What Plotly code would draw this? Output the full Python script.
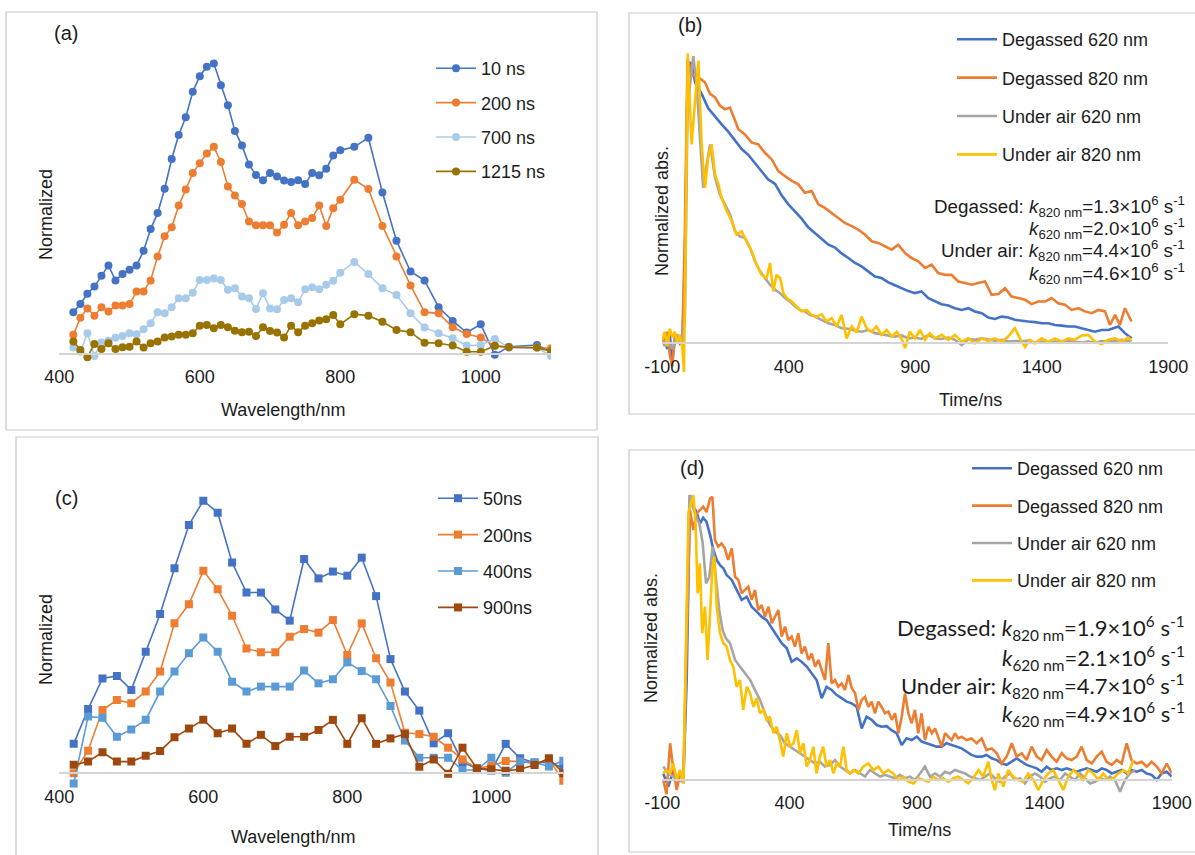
import plotly.graph_objects as go

W, H = 1195, 855

# ---------------- Panel (a) data ----------------
wl_a = [420, 430, 440, 450, 460, 470, 480, 490, 500, 510,
        520, 530, 540, 550, 560, 570, 580, 590, 600, 610,
        620, 630, 640, 650, 660, 670, 680, 690, 700, 710,
        720, 730, 740, 750, 760, 770, 780, 790, 800, 820,
        840, 860, 880, 900, 920, 940, 960, 980, 1000, 1020,
        1040, 1080, 1100]
a_10ns = [0.144, 0.172, 0.207, 0.232, 0.269, 0.305, 0.253, 0.275, 0.290, 0.305,
          0.355, 0.430, 0.485, 0.569, 0.671, 0.754, 0.815, 0.903, 0.956, 0.989,
          1.000, 0.925, 0.856, 0.768, 0.718, 0.652, 0.616, 0.598, 0.623, 0.611,
          0.597, 0.592, 0.598, 0.585, 0.623, 0.615, 0.638, 0.683, 0.701, 0.713,
          0.744, 0.556, 0.390, 0.284, 0.253, 0.161, 0.114, 0.074, 0.102, -0.003,
          0.025, 0.031, 0.008]
a_200ns = [0.066, 0.125, 0.157, 0.132, 0.161, 0.146, 0.167, 0.167, 0.172, 0.215,
           0.215, 0.253, 0.336, 0.405, 0.436, 0.511, 0.566, 0.623, 0.657, 0.690,
           0.713, 0.661, 0.577, 0.546, 0.516, 0.456, 0.443, 0.443, 0.443, 0.418,
           0.445, 0.485, 0.443, 0.456, 0.468, 0.511, 0.441, 0.502, 0.531, 0.600,
           0.568, 0.441, 0.336, 0.236, 0.144, 0.140, 0.092, 0.069, 0.057, 0.028,
           0.023, 0.022, 0.020]
a_700ns = [0.022, 0.008, 0.071, -0.007, 0.040, 0.046, 0.056, 0.062, 0.071, 0.068,
           0.085, 0.106, 0.144, 0.140, 0.161, 0.192, 0.192, 0.211, 0.255, 0.255,
           0.260, 0.255, 0.221, 0.226, 0.198, 0.192, 0.155, 0.209, 0.157, 0.154,
           0.186, 0.192, 0.178, 0.223, 0.230, 0.223, 0.238, 0.252, 0.280, 0.317,
           0.275, 0.226, 0.203, 0.140, 0.091, 0.071, 0.054, 0.029, 0.031, 0.052,
           0.022, 0.022, -0.007]
a_1215ns = [0.043, 0.014, -0.011, 0.034, 0.017, 0.037, 0.017, 0.023, 0.025, 0.043,
            0.022, 0.037, 0.043, 0.057, 0.060, 0.066, 0.066, 0.071, 0.097, 0.100,
            0.089, 0.100, 0.092, 0.080, 0.075, 0.077, 0.062, 0.092, 0.079, 0.074,
            0.057, 0.097, 0.075, 0.097, 0.106, 0.115, 0.120, 0.134, 0.102, 0.137,
            0.132, 0.111, 0.083, 0.075, 0.039, 0.037, 0.029, 0.008, 0.008, 0.028,
            0.023, 0.022, 0.010]

# ---------------- Panel (c) data ----------------
wl_c = [420, 440, 460, 480, 500, 520, 540, 560, 580, 600,
        620, 640, 660, 680, 700, 720, 740, 760, 780, 800,
        820, 840, 860, 880, 900, 920, 940, 960, 980, 1000,
        1020, 1040, 1060, 1080, 1100]
c_50ns = [0.108, 0.236, 0.348, 0.357, 0.306, 0.446, 0.584, 0.752, 0.911, 1.000,
          0.956, 0.773, 0.663, 0.663, 0.601, 0.560, 0.786, 0.715, 0.740, 0.725,
          0.791, 0.650, 0.419, 0.300, 0.230, 0.110, 0.147, 0.040, 0.018, 0.010,
          0.108, 0.055, 0.040, 0.040, 0.020]
c_200ns = [0.000, 0.083, 0.232, 0.269, 0.257, 0.300, 0.373, 0.550, 0.620, 0.743,
           0.675, 0.578, 0.458, 0.444, 0.444, 0.501, 0.529, 0.516, 0.562, 0.434,
           0.550, 0.422, 0.333, 0.149, 0.144, 0.134, 0.094, 0.051, 0.018, 0.027,
           0.045, 0.043, 0.035, 0.050, -0.027]
c_400ns = [-0.037, 0.208, 0.204, 0.134, 0.161, 0.196, 0.300, 0.373, 0.440, 0.498,
           0.446, 0.336, 0.300, 0.318, 0.318, 0.318, 0.377, 0.330, 0.345, 0.407,
           0.375, 0.345, 0.247, 0.120, 0.057, 0.057, 0.057, 0.012, 0.012, 0.057,
           0.002, 0.043, 0.040, 0.025, 0.046]
c_900ns = [0.031, 0.043, 0.077, 0.043, 0.043, 0.064, 0.082, 0.132, 0.164, 0.196,
           0.147, 0.164, 0.108, 0.141, 0.100, 0.134, 0.134, 0.159, 0.196, 0.108,
           0.202, 0.108, 0.128, 0.144, 0.024, 0.051, -0.002, 0.094, 0.018, 0.015,
           0.009, 0.015, 0.030, 0.055, 0.000]

# ---------------- Panel (b) data ----------------
t_b_deg620 = [-100, -90, -80, -70, -60, -50, -40, -30, -20, -10,
              0, 10, 20, 30, 43, 56, 82, 109, 135, 161,
              188, 214, 240, 267, 293, 319, 346, 372, 398, 425,
              451, 477, 504, 530, 557, 583, 609, 636, 662, 688,
              715, 741, 767, 794, 820, 846, 873, 899, 925, 952,
              978, 1004, 1031, 1057, 1084, 1110, 1136, 1163, 1189, 1215,
              1242, 1268, 1294, 1321, 1347, 1373, 1400, 1426, 1452, 1479,
              1505, 1531, 1558, 1584, 1610, 1637, 1663, 1703, 1729, 1755]
b_deg620 = [0.0, 0.02, -0.02, 0.03, -0.06, 0.01, 0.02, 0.0, 0.01, 0.3,
            0.9, 0.97, 0.95, 0.9, 0.88, 0.86, 0.81, 0.78, 0.755, 0.73,
            0.70, 0.67, 0.65, 0.62, 0.59, 0.565, 0.55, 0.51, 0.48, 0.455,
            0.43, 0.40, 0.38, 0.363, 0.34, 0.33, 0.31, 0.294, 0.277, 0.265,
            0.248, 0.23, 0.225, 0.21, 0.2, 0.19, 0.18, 0.173, 0.179, 0.156,
            0.146, 0.135, 0.13, 0.121, 0.115, 0.121, 0.11, 0.104, 0.089, 0.084,
            0.092, 0.089, 0.081, 0.077, 0.075, 0.073, 0.069, 0.069, 0.063, 0.061,
            0.058, 0.058, 0.052, 0.046, 0.04, 0.046, 0.046, 0.058, 0.035, 0.017]

t_b_deg820 = [-100, -90, -80, -70, -60, -50, -40, -30, -20, -10,
              0, 10, 20, 30, 43, 69, 89, 109, 128, 148,
              168, 181, 201, 227, 254, 280, 306, 333, 359, 385,
              412, 438, 464, 491, 517, 543, 570, 596, 622, 649,
              675, 701, 728, 754, 780, 807, 833, 860, 886, 912,
              939, 965, 991, 1018, 1044, 1070, 1097, 1123, 1149, 1176,
              1202, 1229, 1255, 1281, 1307, 1334, 1360, 1386, 1413, 1439,
              1465, 1492, 1518, 1545, 1571, 1597, 1624, 1650, 1670, 1690,
              1709, 1729, 1755]
b_deg820 = [0.02, 0.0, 0.04, -0.04, -0.08, 0.03, 0.0, 0.02, 0.01, 0.4,
            0.98, 0.95, 0.92, 0.93, 0.917, 0.90, 0.86, 0.848, 0.82, 0.807,
            0.813, 0.784, 0.738, 0.72, 0.692, 0.686, 0.657, 0.634, 0.594, 0.577,
            0.56, 0.548, 0.519, 0.525, 0.479, 0.467, 0.45, 0.433, 0.415, 0.404,
            0.392, 0.375, 0.352, 0.346, 0.335, 0.323, 0.34, 0.311, 0.294, 0.283,
            0.26, 0.271, 0.242, 0.236, 0.236, 0.213, 0.208, 0.202, 0.208, 0.213,
            0.167, 0.17, 0.19, 0.161, 0.156, 0.15, 0.135, 0.144, 0.144, 0.156,
            0.138, 0.133, 0.115, 0.121, 0.11, 0.104, 0.115, 0.11, 0.063, 0.098,
            0.063, 0.121, 0.075]

t_b_air620 = [-100, -90, -80, -70, -60, -50, -40, -30, -20, -10,
              0, 10, 23, 36, 49, 62, 76, 89, 109, 128,
              148, 168, 188, 207, 227, 247, 267, 287, 306, 326,
              346, 366, 385, 405, 425, 445, 464, 484, 504, 530,
              557, 583, 609, 636, 662, 688, 715, 741, 767, 794,
              820, 846, 873, 899, 925, 952, 978, 1004, 1031, 1057,
              1084, 1110, 1136, 1163, 1189, 1215, 1242, 1268, 1294, 1321,
              1347, 1373, 1400, 1426, 1452, 1479, 1505, 1531, 1558, 1584,
              1610, 1637, 1663, 1690, 1716, 1742, 1755]
b_air620 = [0.01, -0.01, 0.02, 0.0, -0.02, 0.01, 0.03, 0.0, 0.01, 0.1,
            0.8, 0.89, 0.99, 0.89, 0.7, 0.536, 0.617, 0.686, 0.571, 0.513,
            0.479, 0.444, 0.386, 0.369, 0.363, 0.329, 0.283, 0.248, 0.225, 0.202,
            0.185, 0.173, 0.156, 0.144, 0.127, 0.115, 0.11, 0.098, 0.092, 0.081,
            0.069, 0.063, 0.052, 0.05, 0.043, 0.04, 0.046, 0.035, 0.031, 0.029,
            0.023, 0.027, 0.017, 0.02, 0.015, 0.029, 0.017, 0.015, 0.02, 0.012,
            -0.006, 0.015, 0.012, 0.017, 0.012, 0.009, 0.012, 0.006, 0.008, 0.006,
            0.009, 0.003, 0.006, 0.002, 0.006, 0.003, 0.008, 0.006, 0.003, 0.006,
            0.002, 0.008, 0.006, 0.008, 0.012, 0.008, 0.006]

t_b_air820 = [-100, -90, -80, -70, -60, -50, -40, -30, -20, -14,
              -8, 1, 16, 30, 43, 56, 69, 82, 95, 109,
              122, 135, 155, 175, 194, 214, 234, 254, 273, 293,
              313, 326, 339, 352, 366, 379, 392, 412, 431, 451,
              471, 491, 510, 530, 550, 570, 590, 609, 629, 649,
              669, 688, 708, 728, 747, 767, 787, 807, 827, 846,
              860, 879, 899, 919, 939, 958, 978, 1004, 1031, 1057,
              1084, 1110, 1136, 1163, 1189, 1215, 1242, 1268, 1294, 1314,
              1334, 1354, 1373, 1400, 1426, 1452, 1479, 1505, 1531, 1558,
              1584, 1610, 1637, 1663, 1690, 1716, 1742, 1755]
b_air820 = [0.01, 0.04, -0.01, 0.05, 0.02, 0.04, 0.0, 0.03, -0.02, -0.1,
            0.3, 1.0, 0.686, 0.848, 0.975, 0.686, 0.536, 0.64, 0.686, 0.582,
            0.548, 0.502, 0.456, 0.421, 0.375, 0.386, 0.352, 0.317, 0.271, 0.236,
            0.225, 0.277, 0.179, 0.236, 0.225, 0.173, 0.156, 0.144, 0.127, 0.11,
            0.115, 0.098, 0.092, 0.1, 0.075, 0.087, 0.058, 0.098, 0.017, 0.058,
            0.038, 0.092, 0.052, 0.04, 0.058, 0.029, 0.046, 0.023, 0.04, 0.017,
            -0.017, 0.04, 0.017, 0.046, 0.012, 0.035, 0.017, 0.029, 0.012, 0.029,
            0.006, 0.017, 0.0, 0.017, 0.008, 0.017, 0.006, 0.023, 0.052, 0.017,
            -0.012, 0.012, 0.0, 0.017, 0.006, 0.017, 0.006, 0.017, 0.012, 0.027,
            0.029, 0.006, -0.003, 0.012, 0.017, 0.006, 0.02, 0.008]

# ---------------- Panel (d) data ----------------
t_d_deg620 = [-96, -76, -56, -37, -17, -4, 9, 22, 35, 48,
              61, 74, 88, 101, 114, 127, 140, 153, 173, 192,
              212, 232, 251, 271, 290, 310, 330, 349, 369, 389,
              408, 428, 447, 467, 487, 506, 526, 545, 565, 585,
              604, 624, 644, 663, 683, 702, 722, 742, 761, 781,
              800, 820, 840, 859, 879, 899, 918, 938, 958, 977,
              997, 1016, 1036, 1056, 1075, 1095, 1114, 1134, 1154, 1173,
              1193, 1213, 1232, 1252, 1272, 1291, 1311, 1330, 1350, 1370,
              1389, 1409, 1428, 1448, 1468, 1487, 1507, 1527, 1546, 1566,
              1586, 1605, 1625, 1644, 1664, 1684, 1703, 1723, 1742, 1762,
              1782, 1801, 1821, 1841, 1860, 1880, 1900]
d_deg620 = [0.023, -0.023, 0.035, 0.0, -0.006, 0.35, 1.0, 0.96, 0.94, 0.9,
            0.92, 0.906, 0.86, 0.807, 0.772, 0.754, 0.743, 0.719, 0.702, 0.667,
            0.632, 0.643, 0.608, 0.591, 0.573, 0.561, 0.532, 0.509, 0.48, 0.462,
            0.415, 0.427, 0.415, 0.398, 0.374, 0.351, 0.287, 0.327, 0.316, 0.298,
            0.287, 0.275, 0.269, 0.257, 0.181, 0.222, 0.211, 0.193, 0.187, 0.189,
            0.175, 0.164, 0.123, 0.146, 0.14, 0.152, 0.135, 0.129, 0.123, 0.117,
            0.117, 0.129, 0.123, 0.117, 0.111, 0.099, 0.088, 0.082, 0.082, 0.088,
            0.076, 0.07, 0.058, 0.053, 0.064, 0.076, 0.064, 0.053, 0.047, 0.041,
            0.029, 0.047, 0.035, 0.041, 0.035, 0.041, 0.035, 0.029, 0.035, 0.041,
            0.035, 0.029, 0.041, 0.035, 0.023, 0.029, 0.035, 0.023, 0.035, 0.029,
            0.035, 0.023, 0.018, 0.0, 0.023, 0.029, 0.012]

t_d_deg820 = [-96, -83, -69, -56, -43, -30, -17, -4, 9, 22,
              35, 48, 61, 74, 88, 97, 107, 120, 133, 146,
              159, 173, 186, 199, 212, 225, 238, 251, 264, 277,
              290, 303, 317, 330, 343, 356, 369, 382, 395, 408,
              421, 434, 447, 460, 474, 487, 500, 513, 526, 539,
              552, 565, 578, 591, 604, 617, 631, 644, 657, 670,
              683, 696, 709, 722, 735, 748, 761, 774, 788, 801,
              814, 827, 840, 853, 866, 879, 892, 905, 918, 931,
              945, 958, 971, 984, 997, 1010, 1023, 1036, 1049, 1062,
              1075, 1095, 1114, 1134, 1154, 1173, 1193, 1213, 1232, 1252,
              1272, 1291, 1311, 1330, 1350, 1370, 1389, 1409, 1428, 1448,
              1468, 1487, 1507, 1527, 1546, 1566, 1586, 1605, 1625, 1644,
              1664, 1684, 1703, 1723, 1742, 1762, 1782, 1801, 1821, 1841,
              1860, 1880, 1900]
d_deg820 = [0.0, -0.05, 0.129, 0.035, -0.035, 0.023, 0.0, 0.468, 0.947, 0.877,
            0.936, 0.947, 0.959, 0.94, 0.988, 0.994, 0.842, 0.819, 0.83, 0.813,
            0.772, 0.813, 0.713, 0.702, 0.655, 0.667, 0.678, 0.632, 0.667, 0.596,
            0.614, 0.573, 0.608, 0.55, 0.573, 0.596, 0.503, 0.538, 0.491, 0.503,
            0.468, 0.515, 0.444, 0.468, 0.421, 0.444, 0.398, 0.421, 0.386, 0.351,
            0.48, 0.339, 0.351, 0.327, 0.339, 0.316, 0.368, 0.322, 0.304, 0.246,
            0.281, 0.292, 0.257, 0.275, 0.234, 0.275, 0.257, 0.234, 0.24, 0.211,
            0.234, 0.164, 0.222, 0.304, 0.234, 0.199, 0.246, 0.164, 0.234, 0.14,
            0.187, 0.164, 0.181, 0.152, 0.117, 0.164, 0.152, 0.14, 0.164, 0.146,
            0.152, 0.14, 0.146, 0.129, 0.146, 0.105, 0.111, 0.094, 0.058, 0.082,
            0.129, 0.082, 0.094, 0.07, 0.117, 0.082, 0.07, 0.105, 0.082, 0.064,
            0.094, 0.076, 0.07, 0.082, 0.117, 0.07, 0.058, 0.082, 0.099, 0.064,
            0.053, 0.07, 0.058, 0.129, 0.07, 0.058, 0.064, 0.047, 0.064, 0.047,
            0.023, 0.058, 0.023]

t_d_air620 = [-96, -76, -56, -37, -17, -4, 7, 20, 33, 46,
              59, 72, 85, 98, 111, 124, 137, 150, 166, 186,
              205, 225, 245, 264, 284, 303, 323, 343, 362, 382,
              402, 421, 441, 460, 480, 500, 519, 539, 559, 578,
              598, 617, 637, 657, 676, 696, 715, 735, 755, 774,
              794, 814, 833, 853, 872, 892, 912, 931, 951, 971,
              990, 1010, 1029, 1049, 1069, 1088, 1108, 1128, 1147, 1167,
              1186, 1206, 1226, 1245, 1265, 1285, 1304, 1324, 1343, 1363,
              1383, 1402, 1422, 1441, 1461, 1481, 1500, 1520, 1540, 1559,
              1579, 1598, 1618, 1638, 1657, 1677, 1697, 1716, 1736, 1755]
d_air620 = [0.047, 0.023, 0.012, 0.0, -0.006, 0.585, 1.0, 0.96, 0.924, 0.9,
            0.83, 0.69, 0.713, 0.819, 0.702, 0.596, 0.526, 0.497, 0.48, 0.421,
            0.398, 0.374, 0.351, 0.316, 0.281, 0.234, 0.193, 0.17, 0.158, 0.129,
            0.117, 0.105, 0.094, 0.082, 0.07, 0.058, 0.064, 0.047, 0.053, 0.07,
            0.047, 0.035, 0.023, 0.035, 0.023, 0.012, 0.035, 0.023, 0.012, 0.018,
            0.012, 0.006, 0.018, 0.006, 0.012, 0.0, 0.023, 0.047, 0.012, 0.023,
            0.012, 0.029, 0.023, 0.035, 0.029, 0.023, 0.012, 0.006, 0.0, 0.012,
            0.023, 0.006, -0.006, 0.012, 0.023, 0.0, 0.006, -0.012, 0.012, 0.023,
            0.012, -0.006, 0.006, 0.012, 0.0, 0.023, 0.012, 0.0, 0.023, 0.006,
            -0.012, -0.006, 0.006, 0.0, 0.012, 0.0, -0.041, 0.0, 0.023, 0.035]

t_d_air820 = [-96, -83, -69, -56, -43, -30, -17, -8, 3, 13,
              22, 31, 39, 48, 57, 68, 78, 88, 97, 105,
              114, 127, 140, 153, 166, 179, 192, 205, 218, 232,
              245, 258, 271, 284, 297, 310, 323, 336, 349, 362,
              375, 389, 402, 415, 428, 441, 454, 467, 480, 493,
              506, 519, 532, 545, 559, 572, 585, 598, 611, 624,
              637, 650, 670, 689, 709, 729, 748, 768, 787, 807,
              827, 846, 866, 886, 905, 925, 945, 964, 984, 1003,
              1023, 1043, 1062, 1082, 1101, 1121, 1141, 1160, 1180, 1193,
              1206, 1219, 1239, 1258, 1278, 1298, 1317, 1337, 1357, 1376,
              1396, 1415, 1435, 1455, 1474, 1494, 1514, 1533, 1553, 1572,
              1592, 1612, 1631, 1651, 1671, 1690, 1710, 1729, 1749]
d_air820 = [0.023, 0.035, 0.023, 0.058, 0.0, 0.035, -0.012, 0.468, 0.936, 0.971,
            1.0, 0.9, 0.655, 0.76, 0.515, 0.608, 0.421, 0.585, 0.743, 0.784,
            0.608, 0.515, 0.48, 0.468, 0.421, 0.398, 0.327, 0.351, 0.246, 0.327,
            0.304, 0.257, 0.287, 0.234, 0.246, 0.211, 0.222, 0.164, 0.187, 0.14,
            0.082, 0.164, 0.117, 0.129, 0.175, 0.094, 0.129, 0.047, 0.07, 0.117,
            0.023, 0.082, 0.117, 0.047, 0.07, 0.023, 0.058, 0.047, 0.117, 0.035,
            0.023, 0.035, 0.023, 0.047, 0.058, 0.035, 0.047, 0.023, 0.035, 0.023,
            0.0, 0.012, -0.006, -0.012, 0.006, 0.0, -0.006, 0.012, 0.0, 0.006,
            -0.006, 0.006, 0.012, 0.0, -0.012, 0.006, 0.035, 0.012, 0.064, 0.0,
            -0.035, 0.023, -0.023, 0.035, 0.012, 0.0, -0.006, 0.023, 0.0, -0.035,
            0.0, 0.023, 0.035, 0.0, -0.035, 0.012, 0.035, 0.018, 0.0, 0.035,
            0.023, 0.0, 0.023, 0.0, 0.006, 0.023, 0.035, 0.023, 0.07]

# ---------------- Labels ----------------
names_a = ["10 ns", "200 ns", "700 ns", "1215 ns"]
names_c = ["50ns", "200ns", "400ns", "900ns"]
names_bd = ["Degassed 620 nm", "Degassed 820 nm", "Under air 620 nm", "Under air 820 nm"]
ticks_wl = [400, 600, 800, 1000]
ticks_wl_text = ["400", "600", "800", "1000"]
ticks_t = [-100, 400, 900, 1400, 1900]
ticks_t_text = ["-100", "400", "900", "1400", "1900"]
k_text_b = ["Degassed: <i>k</i><sub>820 nm</sub>=1.3×10<sup>6</sup> s<sup>-1</sup>",
            "<i>k</i><sub>620 nm</sub>=2.0×10<sup>6</sup> s<sup>-1</sup>",
            "Under air: <i>k</i><sub>820 nm</sub>=4.4×10<sup>6</sup> s<sup>-1</sup>",
            "<i>k</i><sub>620 nm</sub>=4.6×10<sup>6</sup> s<sup>-1</sup>"]
k_text_d = ["Degassed: <i>k</i><sub>820 nm</sub>=1.9×10<sup>6</sup> s<sup>-1</sup>",
            "<i>k</i><sub>620 nm</sub>=2.1×10<sup>6</sup> s<sup>-1</sup>",
            "Under air: <i>k</i><sub>820 nm</sub>=4.7×10<sup>6</sup> s<sup>-1</sup>",
            "<i>k</i><sub>620 nm</sub>=4.9×10<sup>6</sup> s<sup>-1</sup>"]

# ---------------- Styles ----------------
FONT = "Liberation Sans, Arial, sans-serif"
TXT = "#1c1c1c"
AXC = "#d4d4d4"
col_a = ["#4472C4", "#ED7D31", "#A9CBEA", "#997300"]
col_c = ["#4472C4", "#ED7D31", "#5B9BD5", "#9E480E"]
col_bd = ["#4472C4", "#ED7D31", "#A5A5A5", "#FFC000"]


def fx(px):
    return px / W


def fy(py):
    return 1 - py / H


fig = go.Figure()

# Panel (a)
for nm, ys, c in zip(names_a, [a_10ns, a_200ns, a_700ns, a_1215ns], col_a):
    fig.add_trace(go.Scatter(x=wl_a, y=ys, name=nm, mode="lines+markers",
                             line=dict(color=c, width=1.6),
                             marker=dict(color=c, size=8, symbol="circle"),
                             xaxis="x", yaxis="y", legend="legend", legendgroup="a" + nm))
# Panel (c)
for nm, ys, c in zip(names_c, [c_50ns, c_200ns, c_400ns, c_900ns], col_c):
    fig.add_trace(go.Scatter(x=wl_c, y=ys, name=nm, mode="lines+markers",
                             line=dict(color=c, width=1.6),
                             marker=dict(color=c, size=8, symbol="square"),
                             xaxis="x3", yaxis="y3", legend="legend3", legendgroup="c" + nm))
# Panel (b)
for nm, ts, ys, c in zip(names_bd, [t_b_deg620, t_b_deg820, t_b_air620, t_b_air820],
                         [b_deg620, b_deg820, b_air620, b_air820], col_bd):
    fig.add_trace(go.Scatter(x=ts, y=ys, name=nm, mode="lines",
                             line=dict(color=c, width=2.6),
                             xaxis="x2", yaxis="y2", legend="legend2", legendgroup="b" + nm))
# Panel (d)
for nm, ts, ys, c in zip(names_bd, [t_d_deg620, t_d_deg820, t_d_air620, t_d_air820],
                         [d_deg620, d_deg820, d_air620, d_air820], col_bd):
    fig.add_trace(go.Scatter(x=ts, y=ys, name=nm, mode="lines",
                             line=dict(color=c, width=2.6),
                             xaxis="x4", yaxis="y4", legend="legend4", legendgroup="d" + nm))


def xax(x0, x1, rng, zero_py, tickvals, ticktext):
    return dict(domain=[fx(x0), fx(x1)], range=rng, anchor="free", position=fy(zero_py),
                showline=True, linecolor=AXC, linewidth=1.5, showgrid=False, zeroline=False,
                ticks="", tickvals=tickvals, ticktext=ticktext, ticklabelstandoff=7,
                automargin=False,
                tickfont=dict(size=18, color=TXT, family=FONT))


def yax(y_bottom, y_top, rng, anchor):
    return dict(domain=[fy(y_bottom), fy(y_top)], range=rng, anchor=anchor,
                visible=False, showgrid=False, zeroline=False, automargin=False)


# geometry (pixels): zero line and unit scale for each panel
fig.update_layout(
    xaxis=xax(59.3, 551.0, [400, 1100], 354.0, ticks_wl, ticks_wl_text),
    yaxis=yax(354.0 + 0.06 * 290.5, 354.0 - 1.1 * 290.5, [-0.06, 1.1], "x"),
    xaxis3=xax(59.3, 563.3, [400, 1100], 773.3, ticks_wl, ticks_wl_text),
    yaxis3=yax(773.3 + 0.06 * 272.6, 773.3 - 1.1 * 272.6, [-0.06, 1.1], "x3"),
    xaxis2=xax(662.2, 1168.2, [-100, 1900], 343.3, ticks_t, ticks_t_text),
    yaxis2=yax(343.3 + 0.1 * 290.0, 343.3 - 1.03 * 290.0, [-0.1, 1.03], "x2"),
    xaxis4=xax(662.2, 1171.8, [-100, 1900], 780.0, ticks_t, ticks_t_text),
    yaxis4=yax(780.0 + 0.1 * 285.0, 780.0 - 1.03 * 285.0, [-0.1, 1.03], "x4"),
)


def leg(left_px, top_px, gap):
    return dict(x=fx(left_px), y=fy(top_px), xanchor="left", yanchor="top",
                bgcolor="rgba(0,0,0,0)", borderwidth=0, tracegroupgap=gap,
                itemwidth=40,
                font=dict(size=18, color=TXT, family=FONT))


fig.update_layout(
    legend=leg(431, 50, 8),
    legend2=leg(952, 21, 12),
    legend3=leg(433, 480, 10),
    legend4=leg(967, 450, 11),
)

# panel borders
borders = [(6, 12, 597, 430), (629, 13, 1196, 414), (16, 437, 598, 856), (629, 450, 1196, 852)]
shapes = []
for x0, y0, x1, y1 in borders:
    shapes.append(dict(type="rect", xref="paper", yref="paper",
                       x0=fx(x0), x1=fx(x1), y0=fy(y1), y1=fy(y0),
                       line=dict(color="#c9c9c9", width=1.2), fillcolor="rgba(0,0,0,0)"))
fig.update_layout(shapes=shapes)

ann = []


def text(s, px, py, size=18, angle=0, xanchor="center", family=FONT):
    ann.append(dict(text=s, x=fx(px), y=fy(py), xref="paper", yref="paper",
                    xanchor=xanchor, yanchor="middle", showarrow=False, textangle=angle,
                    font=dict(size=size, color=TXT, family=family)))


# panel labels
text("(a)", 66, 33, 20)
text("(b)", 690, 25, 20)
text("(c)", 66, 498, 20)
text("(d)", 692, 468, 20)
# axis titles
text("Wavelength/nm", 283, 410)
text("Normalized", 46, 215, angle=-90)
text("Time/ns", 970, 400)
text("Normalized abs.", 662, 211, angle=-90)
text("Wavelength/nm", 293, 837)
text("Normalized", 46, 640, angle=-90)
text("Time/ns", 919, 830)
text("Normalized abs.", 651, 638, angle=-90)
# rate constants
for s, py in zip(k_text_b, [206, 228.5, 251, 273.5]):
    text(s, 1187, py, 18.8, xanchor="right")
for s, py in zip(k_text_d, [628, 657.5, 686, 714]):
    text(s, 1187, py, 22, xanchor="right", family="Lato, Liberation Sans, sans-serif")

fig.update_layout(annotations=ann, width=W, height=H,
                  margin=dict(l=0, r=0, t=0, b=0, autoexpand=False),
                  paper_bgcolor="white", plot_bgcolor="white",
                  font=dict(family=FONT, color=TXT))

fig.write_html("out.html", config={"displayModeBar": False},
               post_script="document.body.style.margin='0';")
